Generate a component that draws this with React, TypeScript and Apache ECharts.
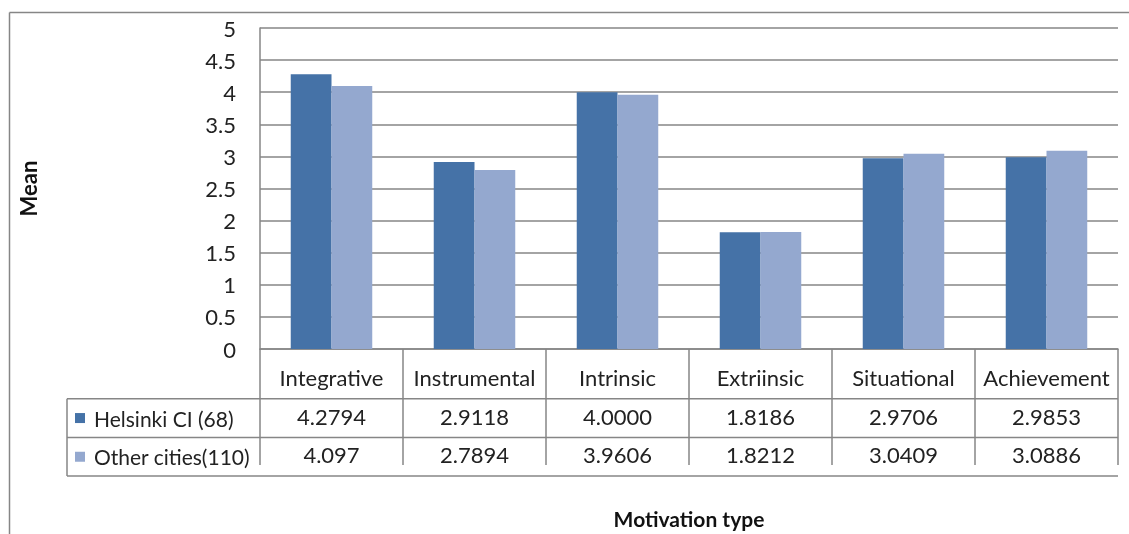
import React, { useEffect, useRef } from "react";
import * as echarts from "echarts";

const categories = ["Integrative", "Instrumental", "Intrinsic", "Extriinsic", "Situational", "Achievement"];
const seriesNames = ["Helsinki CI (68)", "Other cities(110)"];
const helsinkiText = ["4.2794", "2.9118", "4.0000", "1.8186", "2.9706", "2.9853"];
const otherText = ["4.097", "2.7894", "3.9606", "1.8212", "3.0409", "3.0886"];
const helsinkiValues = helsinkiText.map(Number);
const otherValues = otherText.map(Number);
const yTicks = [0, 0.5, 1, 1.5, 2, 2.5, 3, 3.5, 4, 4.5, 5];

const C1 = "#4572a7";
const C2 = "#94a8cf";
const GRAY = "#868686";
const FONT = "Lato, 'Open Sans', sans-serif";
const FS = 22;

export default function App() {
  const ref = useRef<HTMLDivElement>(null);
  useEffect(() => {
    document.body.style.margin = "0";
    const chart = echarts.init(ref.current!, null, { renderer: "svg" });
    const gl = 260, gr = 1118, gt = 28, gb = 360;
    const rowH = 38.7;
    const tableL = 67;
    const r1 = gb + rowH, r2 = gb + 2 * rowH, r3 = gb + 3 * rowH;
    const line = (x1: number, y1: number, x2: number, y2: number) => ({
      type: "line",
      shape: { x1, y1, x2, y2 },
      style: { stroke: GRAY, lineWidth: 1.5 },
      silent: true,
    });
    chart.setOption({
      animation: false,
      textStyle: { fontFamily: FONT },
      grid: { left: gl, right: 1129 - gr, top: gt, bottom: 534 - gb },
      xAxis: {
        type: "category",
        data: categories,
        name: "Motivation type",
        nameLocation: "middle",
        nameGap: 159,
        nameTextStyle: { fontFamily: FONT, fontWeight: "bold", fontSize: 21, color: "#111" },
        axisLine: { show: true, lineStyle: { color: GRAY, width: 1.5 } },
        axisTick: { show: true, length: 3 * rowH, lineStyle: { color: GRAY, width: 1.5 } },
        axisLabel: {
          interval: 0,
          margin: 9,
          formatter: (v: string, i: number) =>
            `{h|${v}}\n{v|${helsinkiText[i]}}\n{v|${otherText[i]}}`,
          rich: {
            h: { fontFamily: FONT, fontSize: FS, lineHeight: rowH, color: "#222" },
            v: { fontFamily: FONT, fontSize: FS, lineHeight: rowH, color: "#222" },
          },
        },
      },
      yAxis: {
        type: "value",
        min: 0,
        max: 5,
        interval: 0.5,
        name: "Mean",
        nameLocation: "middle",
        nameGap: 221,
        nameTextStyle: { fontFamily: FONT, fontWeight: "bold", fontSize: 22, color: "#111" },
        axisLine: { show: true, lineStyle: { color: GRAY, width: 1.5 } },
        axisTick: { show: false },
        axisLabel: {
          margin: 24,
          fontFamily: FONT,
          fontSize: FS,
          color: "#222",
          formatter: (v: number) => (yTicks.includes(v) ? String(v) : ""),
        },
        splitLine: { show: true, lineStyle: { color: GRAY, width: 1.5 } },
      },
      series: [
        {
          name: seriesNames[0],
          type: "bar",
          data: helsinkiValues,
          itemStyle: { color: C1 },
          barGap: "0%",
          barCategoryGap: "43%",
        },
        {
          name: seriesNames[1],
          type: "bar",
          data: otherValues,
          itemStyle: { color: C2 },
          barGap: "0%",
          barCategoryGap: "43%",
        },
      ],
      graphic: [
        line(9.5, 12.5, 1129, 12.5),
        line(9.5, 12.5, 9.5, 534),
        line(tableL, r1, gr, r1),
        line(tableL, r2, gr, r2),
        line(tableL, r3, gr, r3),
        line(tableL, r1, tableL, r3),
        {
          type: "rect",
          shape: { x: 75, y: r1 + rowH / 2 - 5, width: 10, height: 10 },
          style: { fill: C1 },
        },
        {
          type: "rect",
          shape: { x: 75, y: r2 + rowH / 2 - 5, width: 10, height: 10 },
          style: { fill: C2 },
        },
        {
          type: "text",
          x: 94,
          y: r1 + rowH / 2,
          style: { text: seriesNames[0], font: `21px ${FONT}`, fill: "#222", verticalAlign: "middle" },
        },
        {
          type: "text",
          x: 94,
          y: r2 + rowH / 2,
          style: { text: seriesNames[1], font: `21px ${FONT}`, fill: "#222", verticalAlign: "middle" },
        },
      ],
    });
    return () => chart.dispose();
  }, []);
  return <div ref={ref} style={{ position: "fixed", left: 0, top: 0, width: 1129, height: 534 }} />;
}
